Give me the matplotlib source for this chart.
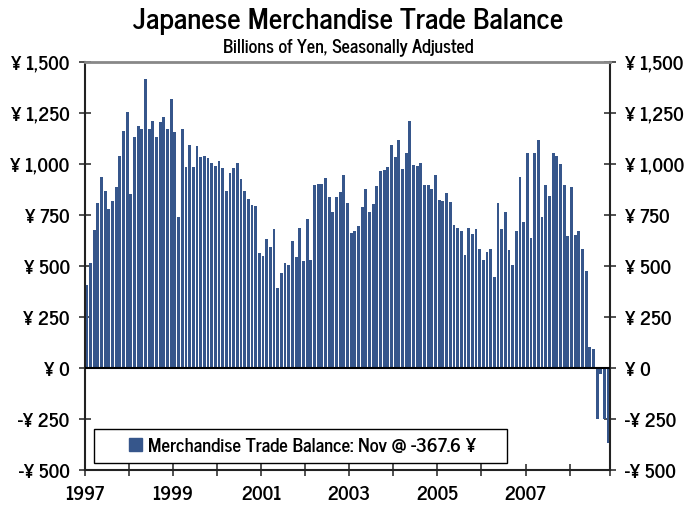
import numpy as np
import matplotlib
matplotlib.use("Agg")
import matplotlib.pyplot as plt
from matplotlib.patches import Rectangle, Patch

# monthly balance, Jan 1997 .. Nov 2008 (billions of yen)
balance_1997 = [405, 514, 676, 808, 935, 867, 779, 818, 887, 1038, 1161, 1254]
balance_1998 = [852, 1131, 1185, 1171, 1416, 1171, 1210, 1131, 1205, 1229, 1171, 1318]
balance_1999 = [1156, 740, 1171, 984, 1092, 984, 1087, 1033, 1038, 1029, 1004, 989]
balance_2000 = [1014, 980, 867, 955, 980, 1004, 926, 867, 828, 798, 793, 563]
balance_2001 = [549, 632, 593, 681, 392, 465, 514, 504, 622, 544, 686, 524]
balance_2002 = [730, 529, 896, 901, 901, 931, 838, 764, 838, 862, 945, 808]
balance_2003 = [661, 671, 696, 789, 877, 764, 803, 891, 965, 970, 984, 1092]
balance_2004 = [1033, 1117, 975, 1053, 1210, 994, 989, 1004, 896, 896, 877, 945]
balance_2005 = [823, 818, 857, 813, 700, 686, 671, 553, 686, 656, 681, 583]
balance_2006 = [529, 568, 583, 446, 808, 681, 764, 578, 504, 671, 935, 715]
balance_2007 = [1053, 637, 1053, 1117, 740, 896, 842, 1053, 1038, 999, 896, 647]
balance_2008 = [887, 651, 671, 583, 475, 103, 93, -248, -28, -248, -367.6]

years = [1997, 1998, 1999, 2000, 2001, 2002, 2003, 2004, 2005, 2006, 2007, 2008]
year_labels = ["1997", "", "1999", "", "2001", "", "2003", "", "2005", "", "2007", ""]
y_ticks = [-500, -250, 0, 250, 500, 750, 1000, 1250, 1500]
y_labels = ["-¥ 500", "-¥ 250", "¥ 0", "¥ 250", "¥ 500", "¥ 750", "¥ 1,000", "¥ 1,250", "¥ 1,500"]

balance = (balance_1997 + balance_1998 + balance_1999 + balance_2000 + balance_2001
           + balance_2002 + balance_2003 + balance_2004 + balance_2005 + balance_2006
           + balance_2007 + balance_2008)

plt.rcParams['font.family'] = ['News Cycle', 'DejaVu Sans']
plt.rcParams['font.weight'] = 'bold'

bar_color = '#36568b'

fig = plt.figure(figsize=(6.96, 5.06), dpi=100)
ax = fig.add_axes([0.1221, 0.0692, 0.7543, 0.8063])

x = np.arange(len(balance)) + 0.5
ax.bar(x, balance, width=0.78, color=bar_color, zorder=2)
ax.axhline(0, color='black', lw=1.5, zorder=3)

ax.set_xlim(0, len(balance))
ax.set_ylim(-500, 1500)

# year boundaries
xt = [12 * (yr - years[0]) for yr in years] + [len(balance)]
ax.set_xticks(xt)
ax.set_xticklabels(year_labels + [""], fontsize=13.5, fontweight='bold')
ax.set_yticks(y_ticks)
ax.set_yticklabels(y_labels, fontsize=13.5, fontweight='bold')
ax.tick_params(axis='both', direction='inout', length=8, width=1.2, color='#333333')
ax.tick_params(axis='x', pad=7)
ax.tick_params(axis='y', pad=7, labelright=True, right=True)

for s in ['left', 'right', 'bottom']:
    ax.spines[s].set_linewidth(1.5)
    ax.spines[s].set_color('#222222')
ax.spines['top'].set_color('#888888')
ax.spines['top'].set_linewidth(2)

# legend box
ax.add_patch(Rectangle((0.0171, 0.0172), 0.787, 0.0833, transform=ax.transAxes,
                       facecolor='white', edgecolor='black', lw=1, zorder=4))
handle = Patch(facecolor=bar_color, edgecolor=bar_color)
leg = ax.legend([handle], ["Merchandise Trade Balance: Nov @ -367.6 ¥"],
                loc='center', bbox_to_anchor=(0.414, 0.0588), frameon=False,
                prop={'size': 13.5, 'weight': 'bold'}, handlelength=0.7,
                handleheight=0.7, handletextpad=0.3)
leg.set_zorder(5)

fig.text(0.5, 0.957, "Japanese Merchandise Trade Balance", ha='center', va='center',
         fontsize=21, fontweight='bold')
fig.text(0.5, 0.906, "Billions of Yen, Seasonally Adjusted", ha='center', va='center',
         fontsize=13, fontweight='bold')

fig.savefig("out.png", dpi=100)
